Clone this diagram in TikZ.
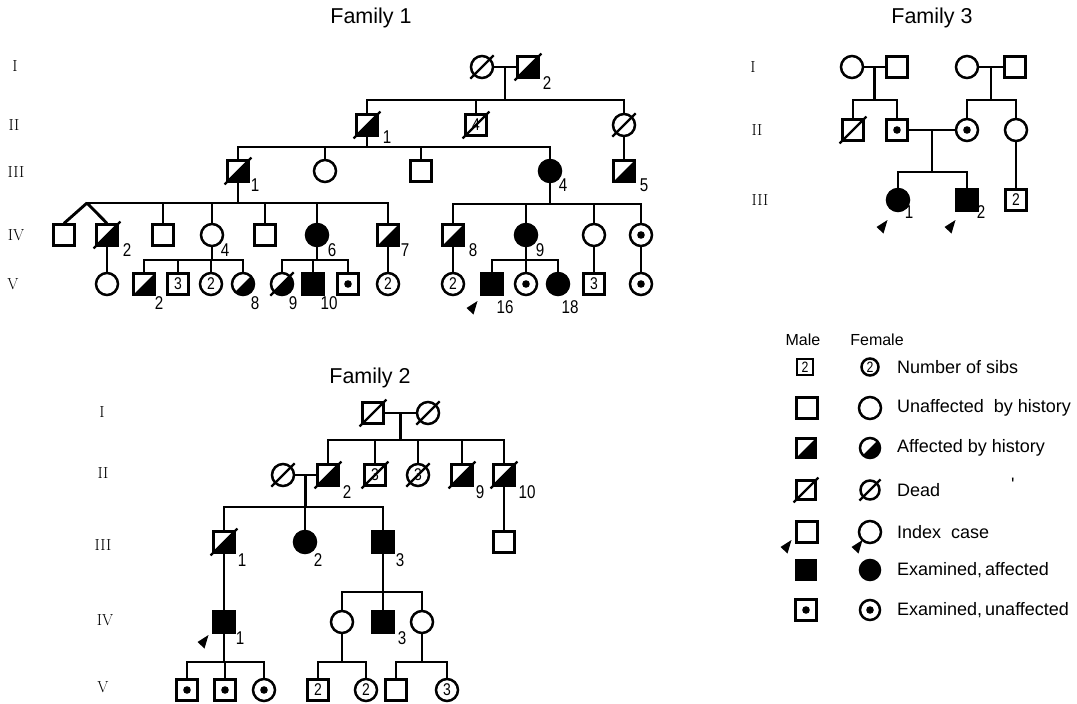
\documentclass[tikz,border=0pt]{standalone}
\usepackage{fontspec}
\newfontfamily\sansf{Liberation Sans}
\newfontfamily\sansn[FakeStretch=0.82]{Liberation Sans}
\usetikzlibrary{calc}
\tikzset{
 pl/.style={line width=2.9pt, line cap=rect},
 sym/.style={draw, line width=2.3pt, inner sep=0pt, fill=white, font=\sansn\fontsize{17}{17}\selectfont},
 male/.style={sym, rectangle, minimum size=21pt},
 female/.style={sym, circle, minimum size=22pt, line width=2.5pt},
 aff/.style={path picture={\fill[black] (path picture bounding box.south west) -- (path picture bounding box.north east) -- (path picture bounding box.south east) -- cycle;}},
 full/.style={fill=black},
 exam/.style={path picture={\fill[black] (path picture bounding box.center) circle (3.8pt);}},
 lab/.style={font=\sansn\fontsize{18.5}{18.5}\selectfont, inner sep=0pt},
 gen/.style={font=\fontsize{16}{16}\selectfont, inner sep=0pt},
 ttl/.style={font=\sansf\fontsize{21.5}{21.5}\selectfont, inner sep=0pt},
 leg/.style={font=\sansf\fontsize{18}{18}\selectfont, inner sep=0pt, anchor=west},
 legh/.style={font=\sansf\fontsize{16}{16}\selectfont, inner sep=0pt},
 dl/.style={line width=2.2pt},
}
\newcommand\deadln[1]{\draw[dl] ([shift={(-1.8pt,-1.8pt)}]#1.south west) -- ([shift={(1.8pt,1.8pt)}]#1.north east);}
\newcommand\deadlc[1]{\draw[dl] ([shift={(-3pt,-3pt)}]#1.south west) -- ([shift={(3pt,3pt)}]#1.north east);}
\newcommand\idxarrow[2]{\fill[shift={(#1,#2)}] (5.5pt,7pt) -- (-5.5pt,0pt) -- (1.5pt,-6.5pt) -- cycle;}
\newcommand\sibbar[3]{\draw[pl] (#2 |- #1) -- (#3 |- #1);}
\newcommand\drops[2]{\foreach \c in {#2}{\draw[pl] (\c |- #1) -- (\c.north);}}
\begin{document}
\begin{tikzpicture}[x=1pt,y=-1pt]
\useasboundingbox (0,0) rectangle (1077,704);

% ================= FAMILY 1 =================
\node[ttl] (t1) at (371,18) {Family 1};
\node[gen] (g1a) at (15,66) {I};
\node[gen] (g1b) at (14,125) {II};
\node[gen] (g1c) at (16,172) {III};
\node[gen] (g1d) at (16,235) {IV};
\node[gen] (g1e) at (13,284) {V};

\node[female] (f1Ia) at (482,67) {};
\node[male,aff] (f1Ib) at (528,67) {};
\node[lab] (l1Ib) at (547,83) {2};

\node[male,aff] (f1IIa) at (367,125) {};
\node[lab] (l1IIa) at (387,137) {1};
\node[male] (f1IIb) at (476,125) {4};
\node[female] (f1IIc) at (624,125) {};

\node[male,aff] (f1IIIa) at (238,171) {};
\node[lab] (l1IIIa) at (255,185) {1};
\node[female] (f1IIIb) at (325,171) {};
\node[male] (f1IIIc) at (421,171) {};
\node[female,full] (f1IIId) at (550,171) {};
\node[lab] (l1IIId) at (563,185) {4};
\node[male,aff] (f1IIIe) at (624,171) {};
\node[lab] (l1IIIe) at (644,185) {5};

\node[male] (f1IVa) at (64,235) {};
\node[male,aff] (f1IVb) at (107,235) {};
\node[lab] (l1IVb) at (127,250) {2};
\node[male] (f1IVc) at (163,235) {};
\node[female] (f1IVd) at (212,235) {};
\node[lab] (l1IVd) at (225,250) {4};
\node[male] (f1IVe) at (265,235) {};
\node[female,full] (f1IVf) at (317,235) {};
\node[lab] (l1IVf) at (332,250) {6};
\node[male,aff] (f1IVg) at (388,235) {};
\node[lab] (l1IVg) at (405,250) {7};
\node[male,aff] (f1IVh) at (453,235) {};
\node[lab] (l1IVh) at (473,250) {8};
\node[female,full] (f1IVi) at (526,235) {};
\node[lab] (l1IVi) at (540,250) {9};
\node[female] (f1IVj) at (594,235) {};
\node[female,exam] (f1IVk) at (641,235) {};

\node[female] (f1Va) at (107,284) {};
\node[male,aff] (f1Vb) at (144,284) {};
\node[lab] (l1Vb) at (159,303) {2};
\node[male] (f1Vc) at (178,284) {3};
\node[female] (f1Vd) at (211,284) {2};
\node[female,aff] (f1Ve) at (243,284) {};
\node[lab] (l1Ve) at (255,303) {8};
\node[female,aff] (f1Vf) at (282,284) {};
\node[lab] (l1Vf) at (293,303) {9};
\node[male,full] (f1Vg) at (313,284) {};
\node[lab] (l1Vg) at (329,303) {10};
\node[male,exam] (f1Vh) at (348,284) {};
\node[female] (f1Vi) at (388,284) {2};
\node[female] (f1Vj) at (453,284) {2};
\node[male,full] (f1Vk) at (492,284) {};
\node[lab] (l1Vk) at (505,307) {16};
\node[female,exam] (f1Vl) at (526,284) {};
\node[female,full] (f1Vm) at (558,284) {};
\node[lab] (l1Vm) at (570,307) {18};
\node[male] (f1Vn) at (594,284) {3};
\node[female,exam] (f1Vo) at (641,284) {};

\deadlc{f1Ia}\deadln{f1Ib}\deadln{f1IIa}\deadln{f1IIb}\deadlc{f1IIc}
\deadln{f1IIIa}\deadln{f1IVb}\deadlc{f1Vf}
\idxarrow{472}{308}

\coordinate (f1b2) at (0,100);
\coordinate (f1b3) at (0,147);
\coordinate (f1b4) at (0,203);
\coordinate (f1b4r) at (0,204);
\coordinate (f1b5) at (0,260);
\coordinate (f1tw) at (87,203);
\coordinate (f1m1) at ($(f1Ia)!0.5!(f1Ib)$);

\draw[pl] (f1Ia) -- (f1Ib);
\draw[pl] (f1m1) -- (f1m1 |- f1b2);
\sibbar{f1b2}{f1IIa}{f1IIc}
\drops{f1b2}{f1IIa,f1IIb,f1IIc}

\draw[pl] (f1IIa) -- (f1IIa |- f1b3);
\sibbar{f1b3}{f1IIIa}{f1IIId}
\drops{f1b3}{f1IIIa,f1IIIb,f1IIIc,f1IIId}
\draw[pl] (f1IIc) -- (f1IIIe);

\draw[pl] (f1IIIa) -- (f1IIIa |- f1b4);
\draw[pl] (f1tw) -- (f1IVg |- f1b4);
\drops{f1b4}{f1IVc,f1IVd,f1IVe,f1IVf,f1IVg}
\draw[pl, line cap=butt] (f1tw) -- (f1IVa.north);
\draw[pl, line cap=butt] (f1tw) -- (f1IVb.north);

\draw[pl] (f1IIId) -- (f1IIId |- f1b4r);
\sibbar{f1b4r}{f1IVh}{f1IVk}
\drops{f1b4r}{f1IVh,f1IVi,f1IVj,f1IVk}

\draw[pl] (f1IVb) -- (f1Va);
\draw[pl] (f1IVd) -- (f1IVd |- f1b5);
\sibbar{f1b5}{f1Vb}{f1Ve}
\drops{f1b5}{f1Vb,f1Vc,f1Vd,f1Ve}
\draw[pl] (f1IVf) -- (f1IVf |- f1b5);
\sibbar{f1b5}{f1Vf}{f1Vh}
\drops{f1b5}{f1Vf,f1Vg,f1Vh}
\draw[pl] (f1IVg) -- (f1Vi);
\draw[pl] (f1IVh) -- (f1Vj);
\draw[pl] (f1IVi) -- (f1IVi |- f1b5);
\sibbar{f1b5}{f1Vk}{f1Vm}
\drops{f1b5}{f1Vk,f1Vl,f1Vm}
\draw[pl] (f1IVj) -- (f1Vn);
\draw[pl] (f1IVk) -- (f1Vo);

% ================= FAMILY 2 =================
\node[ttl] (t2) at (370,378) {Family 2};
\node[gen] (g2a) at (102,412) {I};
\node[gen] (g2b) at (103,473) {II};
\node[gen] (g2c) at (103,545) {III};
\node[gen] (g2d) at (105,620) {IV};
\node[gen] (g2e) at (103,687) {V};

\node[male] (f2Ia) at (373,413) {};
\node[female] (f2Ib) at (428,413) {};

\node[female] (f2IIa) at (283,475) {};
\node[male,aff] (f2IIb) at (328,475) {};
\node[lab] (l2IIb) at (347,492) {2};
\node[male] (f2IIc) at (375,475) {3};
\node[female] (f2IId) at (418,475) {3};
\node[male,aff] (f2IIe) at (462,475) {};
\node[lab] (l2IIe) at (480,492) {9};
\node[male,aff] (f2IIf) at (504,475) {};
\node[lab] (l2IIf) at (527,492) {10};

\node[male,aff] (f2IIIa) at (224,542) {};
\node[lab] (l2IIIa) at (242,560) {1};
\node[female,full] (f2IIIb) at (305,542) {};
\node[lab] (l2IIIb) at (318,560) {2};
\node[male,full] (f2IIIc) at (383,542) {};
\node[lab] (l2IIIc) at (400,560) {3};
\node[male] (f2IIId) at (504,542) {};

\node[male,full] (f2IVa) at (224,622) {};
\node[lab] (l2IVa) at (240,638) {1};
\node[female] (f2IVb) at (342,622) {};
\node[male,full] (f2IVc) at (383,622) {};
\node[lab] (l2IVc) at (402,638) {3};
\node[female] (f2IVd) at (422,622) {};

\node[male,exam] (f2Va) at (187,690) {};
\node[male,exam] (f2Vb) at (225,690) {};
\node[female,exam] (f2Vc) at (264,690) {};
\node[male] (f2Vd) at (318,690) {2};
\node[female] (f2Ve) at (366,690) {2};
\node[male] (f2Vf) at (396,690) {};
\node[female] (f2Vg) at (447,690) {3};

\deadln{f2Ia}\deadlc{f2Ib}\deadlc{f2IIa}\deadln{f2IIb}\deadln{f2IIc}
\deadlc{f2IId}\deadln{f2IIe}\deadln{f2IIf}\deadln{f2IIIa}
\idxarrow{203}{642}

\coordinate (f2b2) at (0,440);
\coordinate (f2b3) at (0,507);
\coordinate (f2b4) at (0,592);
\coordinate (f2b5) at (0,662);
\coordinate (f2m1) at ($(f2Ia)!0.5!(f2Ib)$);
\coordinate (f2m2) at ($(f2IIa)!0.5!(f2IIb)$);

\draw[pl] (f2Ia) -- (f2Ib);
\draw[pl] (f2m1) -- (f2m1 |- f2b2);
\sibbar{f2b2}{f2IIb}{f2IIf}
\drops{f2b2}{f2IIb,f2IIc,f2IId,f2IIe,f2IIf}

\draw[pl] (f2IIa) -- (f2IIb);
\draw[pl] (f2m2) -- (f2m2 |- f2b3);
\sibbar{f2b3}{f2IIIa}{f2IIIc}
\drops{f2b3}{f2IIIa,f2IIIb,f2IIIc}
\draw[pl] (f2IIf) -- (f2IIId);

\draw[pl] (f2IIIa) -- (f2IVa);
\draw[pl] (f2IIIc) -- (f2IIIc |- f2b4);
\sibbar{f2b4}{f2IVb}{f2IVd}
\drops{f2b4}{f2IVb,f2IVc,f2IVd}

\draw[pl] (f2IVa) -- (f2IVa |- f2b5);
\sibbar{f2b5}{f2Va}{f2Vc}
\drops{f2b5}{f2Va,f2Vb,f2Vc}
\draw[pl] (f2IVb) -- (f2IVb |- f2b5);
\sibbar{f2b5}{f2Vd}{f2Ve}
\drops{f2b5}{f2Vd,f2Ve}
\draw[pl] (f2IVd) -- (f2IVd |- f2b5);
\sibbar{f2b5}{f2Vf}{f2Vg}
\drops{f2b5}{f2Vf,f2Vg}

% ================= FAMILY 3 =================
\node[ttl] (t3) at (932,18) {Family 3};
\node[gen] (g3a) at (753,67) {I};
\node[gen] (g3b) at (757,130) {II};
\node[gen] (g3c) at (760,200) {III};

\node[female] (f3Ia) at (852,67) {};
\node[male] (f3Ib) at (897,67) {};
\node[female] (f3Ic) at (967,67) {};
\node[male] (f3Id) at (1015,67) {};

\node[male] (f3IIa) at (853,130) {};
\node[male,exam] (f3IIb) at (897,130) {};
\node[female,exam] (f3IIc) at (967,130) {};
\node[female] (f3IId) at (1016,130) {};

\node[female,full] (f3IIIa) at (898,200) {};
\node[lab] (l3IIIa) at (909,212) {1};
\node[male,full] (f3IIIb) at (967,200) {};
\node[lab] (l3IIIb) at (981,212) {2};
\node[male] (f3IIIc) at (1016,200) {2};

\deadln{f3IIa}
\idxarrow{882}{227}
\idxarrow{950}{227}

\coordinate (f3b2) at (0,100);
\coordinate (f3b3) at (0,172);
\coordinate (f3m1) at ($(f3Ia)!0.5!(f3Ib)$);
\coordinate (f3m2) at ($(f3Ic)!0.5!(f3Id)$);
\coordinate (f3m3) at ($(f3IIb)!0.5!(f3IIc)$);

\draw[pl] (f3Ia) -- (f3Ib);
\draw[pl] (f3m1) -- (f3m1 |- f3b2);
\sibbar{f3b2}{f3IIa}{f3IIb}
\drops{f3b2}{f3IIa,f3IIb}
\draw[pl] (f3Ic) -- (f3Id);
\draw[pl] (f3m2) -- (f3m2 |- f3b2);
\sibbar{f3b2}{f3IIc}{f3IId}
\drops{f3b2}{f3IIc,f3IId}
\draw[pl] (f3IIb) -- (f3IIc);
\draw[pl] (f3m3) -- (f3m3 |- f3b3);
\sibbar{f3b3}{f3IIIa}{f3IIIb}
\drops{f3b3}{f3IIIa,f3IIIb}
\draw[pl] (f3IId) -- (f3IIIc);

% ================= LEGEND =================
\node[legh] (lgM) at (803,340) {Male};
\node[legh] (lgF) at (877,340) {Female};

\node[male, minimum size=16pt, line width=2.5pt, font=\sansn\fontsize{15}{15}\selectfont] (lm1) at (805,367) {2};
\node[female, minimum size=17pt, font=\sansn\fontsize{15}{15}\selectfont] (lf1) at (870,367) {2};
\node[leg] (lt1) at (897,367) {Number of sibs};

\node[male] (lm2) at (807,408) {};
\node[female] (lf2) at (870,408) {};
\node[leg] (lt2) at (897,408) {Unaffected\ \ by history};

\node[male,aff, minimum size=19pt] (lm3) at (806,448) {};
\node[female,aff, minimum size=20pt] (lf3) at (870,448) {};
\node[leg] (lt3) at (897,448) {Affected by history};

\node[male, minimum size=19pt] (lm4) at (806,490) {};
\node[female, minimum size=19pt] (lf4) at (870,490) {};
\node[leg] (lt4) at (897,490) {Dead};
\node[leg] (lt4b) at (1011,484) {'};
\deadln{lm4}\deadlc{lf4}

\node[male] (lm5) at (807,532) {};
\node[female] (lf5) at (870,532) {};
\node[leg] (lt5) at (897,532) {Index\ \ case};
\idxarrow{786}{547}
\idxarrow{857}{547}

\node[male,full, minimum size=20pt] (lm6) at (806,570) {};
\node[female,full, minimum size=20pt] (lf6) at (870,570) {};
\node[leg] (lt6) at (897,570) {Examined,\,affected};

\node[male,exam, line width=2.8pt] (lm7) at (806,610) {};
\node[female,exam, minimum size=20pt] (lf7) at (870,610) {};
\node[leg] (lt7) at (897,610) {Examined,\,unaffected};

\end{tikzpicture}
\end{document}
